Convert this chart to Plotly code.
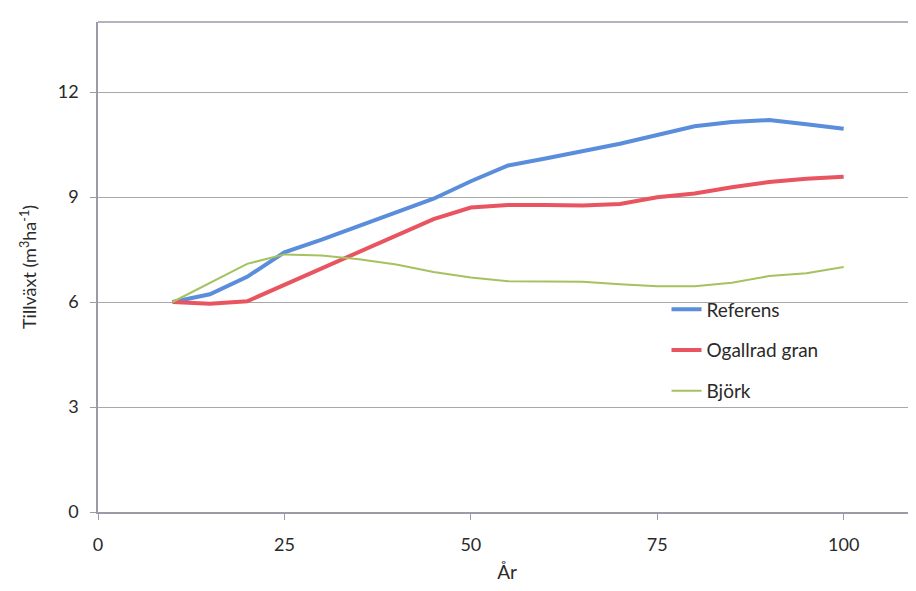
import plotly.graph_objects as go

years = [10, 15, 20, 25, 30, 35, 40, 45, 50, 55, 60, 65, 70, 75, 80, 85, 90, 95, 100]
referens = [6.0, 6.22, 6.72, 7.42, 7.78, 8.16, 8.55, 8.95, 9.45, 9.9, 10.1, 10.3, 10.52, 10.77, 11.02, 11.14, 11.2, 11.08, 10.95]
ogallrad_gran = [6.0, 5.95, 6.02, 6.49, 6.95, 7.42, 7.88, 8.37, 8.7, 8.77, 8.77, 8.76, 8.8, 8.99, 9.1, 9.28, 9.43, 9.52, 9.58]
bjork = [6.0, 6.55, 7.09, 7.36, 7.33, 7.22, 7.07, 6.86, 6.7, 6.59, 6.59, 6.58, 6.51, 6.45, 6.45, 6.55, 6.74, 6.82, 7.0]

x_ticks = [0, 25, 50, 75, 100]
y_ticks = [0, 3, 6, 9, 12]

font_family = "Lato, 'Open Sans', sans-serif"
text_color = "#2a2a2a"
axis_color = "#9a9aa8"

fig = go.Figure()
fig.add_trace(go.Scatter(x=years, y=referens, mode="lines", name="Referens",
                         line=dict(color="#5A8DDB", width=4), legendgroup="a"))
fig.add_trace(go.Scatter(x=years, y=ogallrad_gran, mode="lines", name="Ogallrad gran",
                         line=dict(color="#E8545F", width=4), legendgroup="b"))
fig.add_trace(go.Scatter(x=years, y=bjork, mode="lines", name="Björk",
                         line=dict(color="#A4C25E", width=2), legendgroup="c"))

# top border of the plot area
fig.add_shape(type="line", xref="paper", yref="paper", x0=0, x1=1.02, y0=1, y1=1,
              line=dict(color=axis_color, width=1.5))

fig.update_layout(
    width=908, height=575,
    margin=dict(l=90, r=0, t=14, b=71, autoexpand=False),
    paper_bgcolor="white", plot_bgcolor="white",
    font=dict(family=font_family, size=18, color=text_color),
    showlegend=True,
    legend=dict(x=0.695, y=0.452, xanchor="left", yanchor="top",
                bgcolor="rgba(0,0,0,0)", font=dict(size=19, color=text_color),
                tracegroupgap=13, itemwidth=30),
    xaxis=dict(range=[0, 109.7], tickvals=x_ticks, ticktext=[str(v) for v in x_ticks],
               showgrid=False, zeroline=False, showline=True,
               linecolor=axis_color, linewidth=1.5, automargin=False,
               ticks="outside", ticklen=6, tickcolor=axis_color,
               ticklabelstandoff=10,
               title=dict(text="År", font=dict(size=19, color=text_color), standoff=16)),
    yaxis=dict(range=[0, 14], tickvals=y_ticks, ticktext=[str(v) for v in y_ticks],
               showgrid=True, gridcolor="#a8a8a8", gridwidth=1, automargin=False,
               zeroline=False, showline=True, linecolor=axis_color, linewidth=1.5,
               ticks="outside", ticklen=6, tickcolor=axis_color,
               ticklabelstandoff=8,
               title=dict(text="Tillväxt (m<sup>3</sup>ha<sup>-1</sup>)",
                          font=dict(size=18, color=text_color), standoff=16)),
)

fig.write_html("out.html")
